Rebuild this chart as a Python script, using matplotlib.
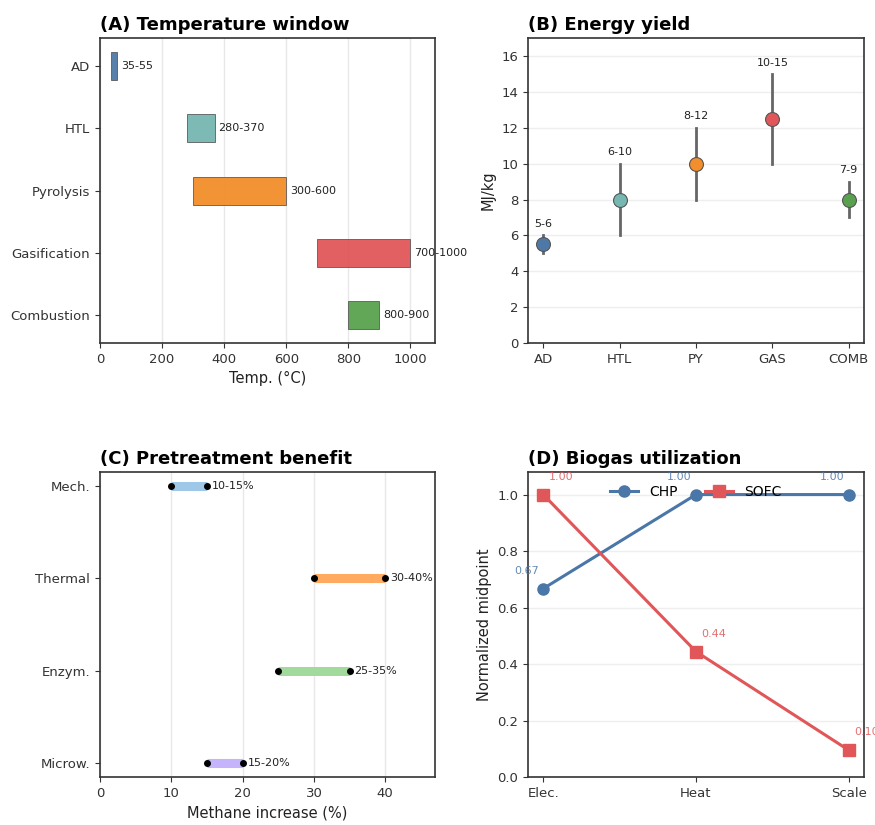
import numpy as np
import matplotlib
matplotlib.use("Agg")
import matplotlib.pyplot as plt

# (A) temperature windows
proc = ["AD", "HTL", "Pyrolysis", "Gasification", "Combustion"]
t_lo = [35, 280, 300, 700, 800]
t_hi = [55, 370, 600, 1000, 900]
proc_colors = ["#4e79a7", "#76b7b2", "#f28e2b", "#e15759", "#59a14f"]

# (B) energy yield
short = ["AD", "HTL", "PY", "GAS", "COMB"]
e_lo = [5, 6, 8, 10, 7]
e_hi = [6, 10, 12, 15, 9]

# (C) pretreatment
pre = ["Mech.", "Thermal", "Enzym.", "Microw."]
p_lo = [10, 30, 25, 15]
p_hi = [15, 40, 35, 20]
pre_colors = ["#9fc8e8", "#ffaa60", "#a2d99c", "#c5b3fc"]

# (D) biogas utilization
crit = ["Elec.", "Heat", "Scale"]
chp = [0.667, 1.0, 1.0]
sofc = [1.0, 0.444, 0.095]

plt.rcParams["axes.edgecolor"] = "#333333"
plt.rcParams["axes.linewidth"] = 1.2
plt.rcParams["xtick.labelsize"] = 9.5
plt.rcParams["ytick.labelsize"] = 9.5
plt.rcParams["xtick.labelcolor"] = "#333333"
plt.rcParams["ytick.labelcolor"] = "#333333"
plt.rcParams["xtick.color"] = "#333333"
plt.rcParams["ytick.color"] = "#333333"

fig = plt.figure(figsize=(8.75, 8.25), dpi=100)
axA = fig.add_axes([0.1143, 0.5842, 0.383, 0.3697])
axB = fig.add_axes([0.6034, 0.5842, 0.384, 0.3697])
axC = fig.add_axes([0.1143, 0.0582, 0.383, 0.3697])
axD = fig.add_axes([0.6034, 0.0582, 0.384, 0.3697])

title_kw = dict(fontsize=13, fontweight="bold", loc="left", pad=6)
lab_kw = dict(fontsize=10.5, color="#222222")

# A
y = np.arange(len(proc))
widths = np.array(t_hi) - np.array(t_lo)
axA.barh(y, widths, left=t_lo, height=0.45, color=proc_colors,
         edgecolor="#555555", linewidth=0.6, alpha=0.95, zorder=3)
for i in range(len(proc)):
    axA.text(t_hi[i] + 12, y[i], f"{t_lo[i]}-{t_hi[i]}", va="center",
             fontsize=8, color="#222222")
axA.set_yticks(y)
axA.set_yticklabels(proc)
axA.invert_yaxis()
axA.set_xlim(0, 1080)
axA.set_xlabel("Temp. (°C)", **lab_kw)
axA.grid(axis="x", color="#e8e8e8", linewidth=1, zorder=0)
axA.set_axisbelow(True)
axA.set_title("(A) Temperature window", **title_kw)

# B
x = np.arange(len(short))
mid = (np.array(e_lo) + np.array(e_hi)) / 2
for i in range(len(short)):
    axB.plot([x[i], x[i]], [e_lo[i], e_hi[i]], color="#666666", lw=2, zorder=2)
    axB.plot(x[i], mid[i], "o", ms=10, color=proc_colors[i],
             mec="#555555", mew=0.8, zorder=3)
    axB.text(x[i], e_hi[i] + 0.35, f"{e_lo[i]}-{e_hi[i]}", ha="center",
             va="bottom", fontsize=8, color="#222222")
axB.set_xticks(x)
axB.set_xticklabels(short)
axB.set_xlim(-0.2, 4.2)
axB.set_ylim(0, 17)
axB.set_yticks(np.arange(0, 17, 2))
axB.set_ylabel("MJ/kg", **lab_kw)
axB.grid(axis="y", color="#eeeeee", linewidth=1, zorder=0)
axB.set_axisbelow(True)
axB.set_title("(B) Energy yield", **title_kw)

# C
yc = np.arange(len(pre))
for i in range(len(pre)):
    axC.plot([p_lo[i], p_hi[i]], [yc[i], yc[i]], color=pre_colors[i],
             lw=6.5, solid_capstyle="butt", zorder=2)
    axC.plot([p_lo[i], p_hi[i]], [yc[i], yc[i]], "o", color="black",
             ms=4, zorder=3)
    axC.text(p_hi[i] + 0.7, yc[i], f"{p_lo[i]}-{p_hi[i]}%", va="center",
             fontsize=8, color="#222222")
axC.set_yticks(yc)
axC.set_yticklabels(pre)
axC.set_ylim(3.15, -0.15)
axC.set_xlim(0, 47)
axC.set_xlabel("Methane increase (%)", **lab_kw)
axC.grid(axis="x", color="#e8e8e8", linewidth=1, zorder=0)
axC.set_axisbelow(True)
axC.set_title("(C) Pretreatment benefit", **title_kw)

# D
xd = np.arange(len(crit))
axD.plot(xd, chp, "-o", color="#4a76a8", lw=2.2, ms=8, label="CHP", zorder=3)
axD.plot(xd, sofc, "-s", color="#e15759", lw=2.2, ms=8, label="SOFC", zorder=3)
for i in range(len(crit)):
    axD.annotate(f"{chp[i]:.2f}", (xd[i], chp[i]), textcoords="offset points",
                 xytext=(-12, 13), ha="center", va="center", fontsize=8,
                 color="#4a76a8", alpha=0.85)
    axD.annotate(f"{sofc[i]:.2f}", (xd[i], sofc[i]), textcoords="offset points",
                 xytext=(13, 13), ha="center", va="center", fontsize=8,
                 color="#e15759", alpha=0.85, annotation_clip=False)
axD.set_xticks(xd)
axD.set_xticklabels(crit)
axD.set_xlim(-0.1, 2.1)
axD.set_ylim(0, 1.08)
axD.set_ylabel("Normalized midpoint", **lab_kw)
axD.grid(axis="y", color="#eeeeee", linewidth=1, zorder=0)
axD.set_axisbelow(True)
axD.legend(loc="upper center", ncol=2, frameon=False, fontsize=10,
           bbox_to_anchor=(0.5, 0.99), borderaxespad=0.3)
axD.set_title("(D) Biogas utilization", **title_kw)

fig.savefig("out.png", dpi=100)
